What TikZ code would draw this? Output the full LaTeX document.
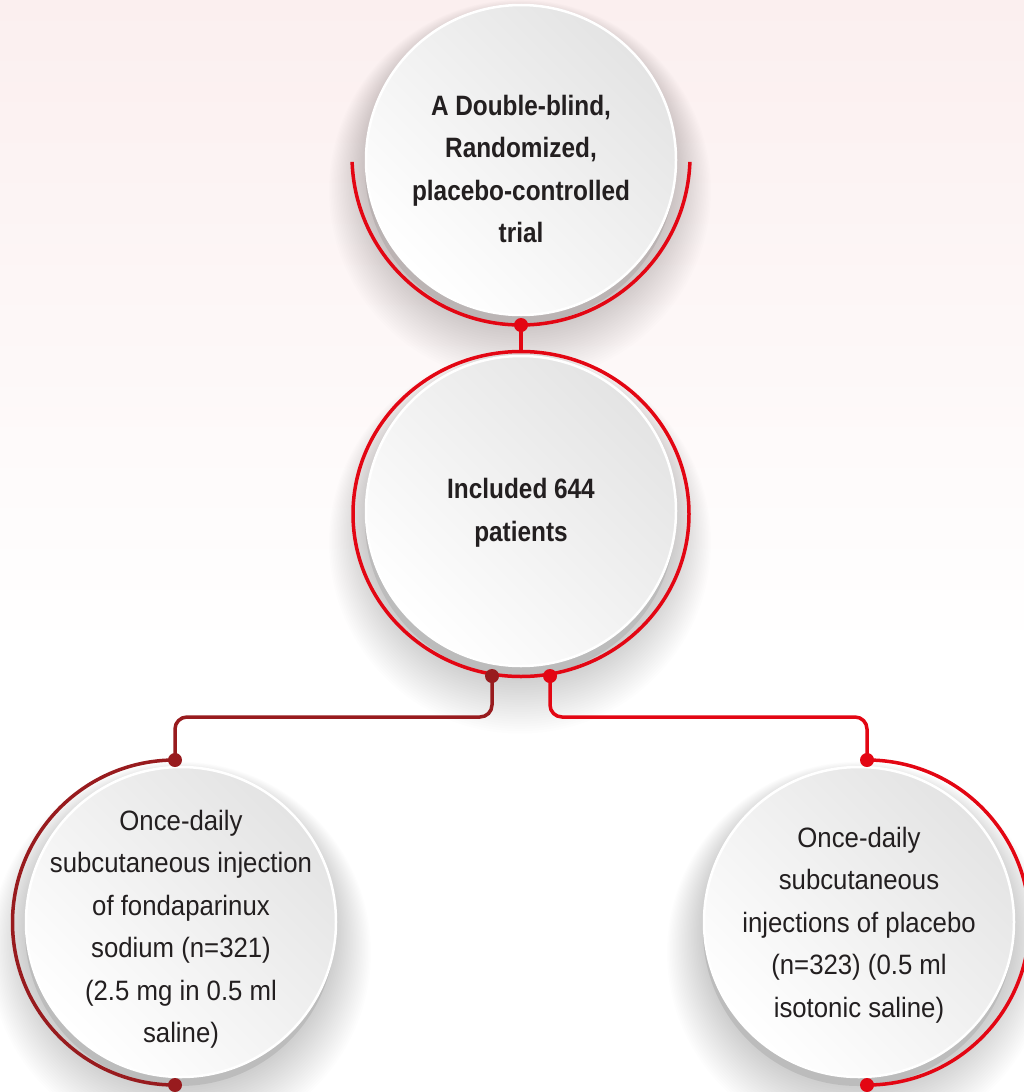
\documentclass[tikz,border=0pt]{standalone}
\usepackage{fontspec}
\setmainfont{Liberation Sans}[FakeStretch=0.92, BoldFeatures={FakeStretch=0.87}]
\usetikzlibrary{calc}
\definecolor{red1}{HTML}{E30613}
\definecolor{dred}{HTML}{981B1E}
\definecolor{txt}{HTML}{231F20}
\definecolor{bgtop}{HTML}{FBEFEF}
\definecolor{discgray}{HTML}{E4E4E4}
\begin{document}
\begin{tikzpicture}[x=1pt,y=-1pt,
  disc/.style={circle, minimum size=310pt, inner sep=0pt, top color=discgray, bottom color=white, shading angle=-45, draw=white, line width=2.5pt},
  lbl/.style={text=txt, align=center, font=\fontsize{28}{42.5}\selectfont, inner sep=0pt},
  ring/.style={line width=3.5pt},
  dotn/.style={circle, inner sep=0pt, minimum size=14pt}]
% background
\fill[white] (0,0) rectangle (1024,1092);
\shade[top color=bgtop, bottom color=white] (0,0) rectangle (1024,650);
\useasboundingbox (0,0) rectangle (1024,1092);
% shadows
\foreach \cx/\cy in {521/160, 521/512, 181/922, 859/922}{
  \foreach \i in {0,...,24}
    \fill[black, opacity=0.007] (\cx-1,\cy+9+0.9*\i) circle (155+1.5*\i);
  \fill[black, opacity=0.08] (\cx-1,\cy+9) circle (155);
}
% discs
\node[disc] (trial) at (521,160) {};
\node[disc] (incl) at (521,511) {};
\node[disc] (fonda) at (181,922) {};
\node[disc] (plac) at (859,922) {};
% texts
\node[lbl] (trialtxt) at (521,169) {\bfseries A Double-blind,\\ \bfseries Randomized,\\ \bfseries placebo-controlled\\ \bfseries trial};
\node[lbl] (incltxt) at (521,513) {\bfseries Included 644\\ \bfseries patients};
\node[lbl] (fondatxt) at (181,929) {Once-daily\\ subcutaneous injection\\ of fondaparinux\\ sodium (n=321)\\ (2.5 mg in 0.5 ml\\ saline)};
\node[lbl] (plactxt) at (859,925) {Once-daily\\ subcutaneous\\ injections of placebo\\ (n=323) (0.5 ml\\ isotonic saline)};
% coordinates
\coordinate (tdot) at (521,325);
\coordinate (incltop) at (521,352);
\coordinate (ldot) at (492,676);
\coordinate (rdot) at (550,676);
\coordinate (fdot) at (175,760);
\coordinate (fbot) at (175,1085);
\coordinate (pdot) at (867,760);
\coordinate (pbot) at (867,1085);
% top arc
\draw[ring, red1] ($(521,156)+(178:169)$) arc[start angle=178, end angle=2, radius=169];
\draw[ring, red1] (tdot) -- (incltop);
% middle ring
\draw[ring, red1] (521,514) ellipse [x radius=168, y radius=162.5];
% connectors
\draw[ring, dred, rounded corners=12] (ldot) -- ++(0,41) -| (fdot);
\draw[ring, red1, rounded corners=12] (rdot) -- ++(0,41) -| (pdot);
% bottom arcs
\draw[ring, dred] (fdot) arc[start angle=270, end angle=90, radius=162.5];
\draw[ring, red1] (pdot) arc[start angle=270, end angle=450, radius=162.5];
% dots
\node[dotn, fill=red1] (d1) at (tdot) {};
\node[dotn, fill=dred] (d2) at (ldot) {};
\node[dotn, fill=red1] (d3) at (rdot) {};
\node[dotn, fill=dred] (d4) at (fdot) {};
\node[dotn, fill=dred] (d5) at (fbot) {};
\node[dotn, fill=red1] (d6) at (pdot) {};
\node[dotn, fill=red1] (d7) at (pbot) {};
\end{tikzpicture}
\end{document}
